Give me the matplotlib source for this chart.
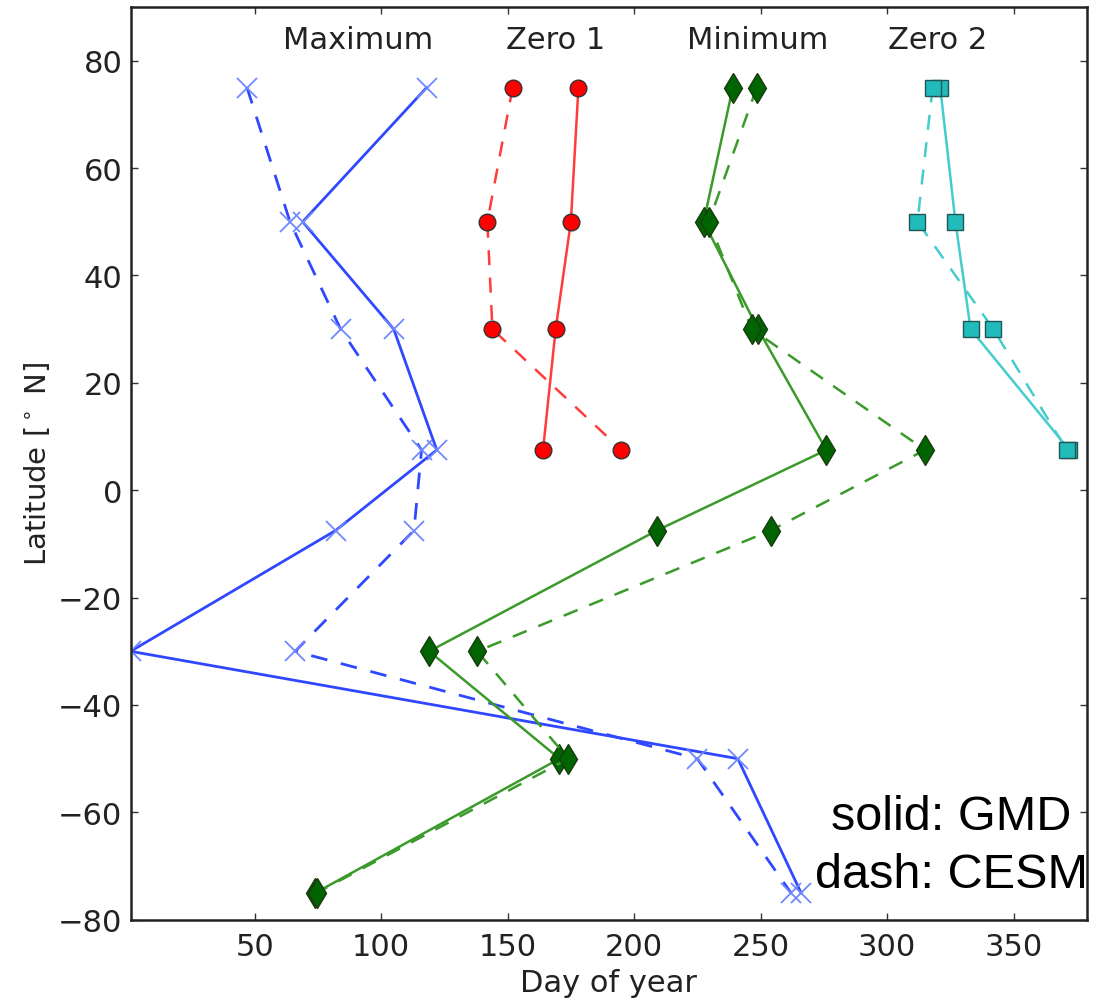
import matplotlib
matplotlib.use('Agg')
import matplotlib.pyplot as plt

LATS = [75, 50, 30, 7.5, -7.5, -30, -50, -75]
LATS_NH = [75, 50, 30, 7.5]

# day of year of each phase, GMD (solid) and CESM (dash)
MAX_GMD = [118, 69, 105, 122, 82, 1, 241, 266]
MAX_CESM = [47, 64, 84, 116, 113, 66, 225, 262]
ZERO1_GMD = [178, 175, 169, 164]
ZERO1_CESM = [152, 142, 144, 195]
MIN_GMD = [239, 227.5, 249, 276, 209, 119, 170.5, 74]
MIN_CESM = [248.5, 229.5, 246.5, 315, 254, 138, 174, 74.5]
ZERO2_GMD = [321, 327, 333, 372]
ZERO2_CESM = [318, 312, 342, 371]

LABELS = ['Maximum', 'Zero 1', 'Minimum', 'Zero 2']
LABEL_X = [91, 169, 249, 320]

plt.rcParams['font.family'] = 'DejaVu Sans'

fig = plt.figure(figsize=(10.93, 10.03), dpi=100)
ax = fig.add_axes([0.1195, 0.082, 0.875, 0.91])

blue = '#2f48ff'
red = '#ff3c3c'
green = '#3a9a2a'
cyan = '#45cccc'

# Maximum
ax.plot(MAX_GMD, LATS, '-', color=blue, lw=2, marker='x', ms=15, mew=1.3,
        mec='#7088ff')
ax.plot(MAX_CESM, LATS, '--', color=blue, lw=2, dashes=(6, 5), marker='x',
        ms=15, mew=1.3, mec='#7088ff')

# Zero 1
ax.plot(ZERO1_GMD, LATS_NH, '-', color=red, lw=1.8, marker='o', ms=12,
        mfc='#ff0000', mec='#333333', mew=1)
ax.plot(ZERO1_CESM, LATS_NH, '--', color=red, lw=1.8, dashes=(6, 5),
        marker='o', ms=12, mfc='#ff0000', mec='#333333', mew=1)

# Minimum
ax.plot(MIN_GMD, LATS, '-', color=green, lw=1.8, marker='d', ms=15,
        mfc='#006400', mec='#1a3a10', mew=1)
ax.plot(MIN_CESM, LATS, '--', color=green, lw=1.8, dashes=(6, 5),
        marker='d', ms=15, mfc='#006400', mec='#1a3a10', mew=1)

# Zero 2
ax.plot(ZERO2_GMD, LATS_NH, '-', color=cyan, lw=1.8, marker='s', ms=12,
        mfc='#22bbbb', mec='#225555', mew=1)
ax.plot(ZERO2_CESM, LATS_NH, '--', color=cyan, lw=1.8, dashes=(6, 5),
        marker='s', ms=12, mfc='#22bbbb', mec='#225555', mew=1)

for lab, xpos in zip(LABELS, LABEL_X):
    ax.text(xpos, 84, lab, ha='center', va='center', fontsize=22,
            color='#222222')

ax.text(0.858, 0.1136, 'solid: GMD', transform=ax.transAxes, ha='center',
        va='center', fontsize=35, family='Liberation Sans', color='black')
ax.text(0.858, 0.050, 'dash: CESM', transform=ax.transAxes, ha='center',
        va='center', fontsize=35, family='Liberation Sans', color='black')

ax.set_xlim(1, 379)
ax.set_ylim(-80, 90)
ax.set_xticks([50, 100, 150, 200, 250, 300, 350])
ax.set_yticks(range(-80, 81, 20))
ax.tick_params(direction='in', length=5, width=1, top=True, right=True,
               labelsize=22, colors='#333333', labelcolor='#222222')
ax.tick_params(axis='x', pad=9)
ax.tick_params(axis='y', pad=6)
for sp in ax.spines.values():
    sp.set_linewidth(1.8)
    sp.set_color('#222222')

ax.set_xlabel('Day of year', fontsize=22, color='#222222', labelpad=5)
ax.set_ylabel('Latitude [$^\\circ$ N]', fontsize=21, color='#222222',
              labelpad=4)

fig.savefig('out.png', dpi=100)
